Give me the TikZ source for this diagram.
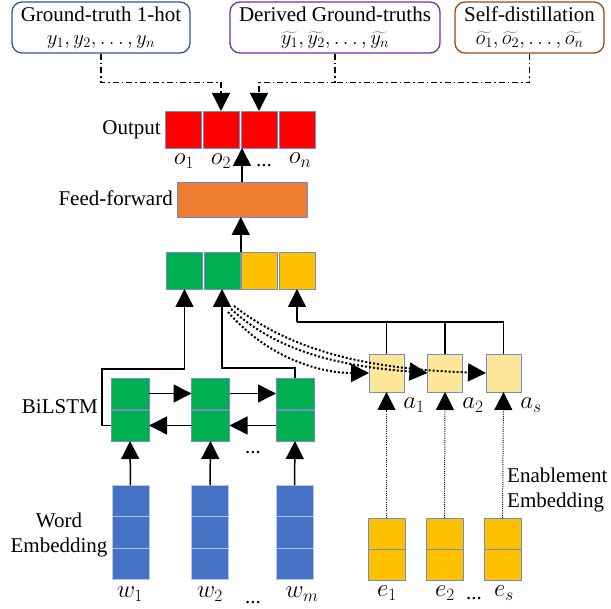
\documentclass[tikz,border=0pt]{standalone}
\usepackage{fontspec}
\setmainfont{Liberation Serif}
\usetikzlibrary{arrows.meta,calc}
\definecolor{cred}{HTML}{FF0000}
\definecolor{corange}{HTML}{ED7D31}
\definecolor{cgreen}{HTML}{00B050}
\definecolor{cyellow}{HTML}{FFC000}
\definecolor{clyellow}{HTML}{FFE699}
\definecolor{cblue}{HTML}{4472C4}
\definecolor{cellb}{HTML}{6F8FC8}
\definecolor{wcellb}{HTML}{B4C7E7}
\definecolor{bblue}{HTML}{2F5597}
\definecolor{bpurple}{HTML}{7030A0}
\definecolor{bbrown}{HTML}{9E480E}
\begin{document}
\begin{tikzpicture}[x=1pt,y=-1pt,
  font=\fontsize{21}{23}\selectfont,
  cell/.style={draw=cellb,line width=0.8pt,inner sep=0pt,outer sep=0pt,minimum width=36pt,minimum height=37pt},
  wcell/.style={cell,draw=wcellb,fill=cblue,minimum width=37pt,minimum height=31.5pt},
  ecell/.style={cell,fill=cyellow,minimum width=37pt,minimum height=31pt},
  lcell/.style={cell,fill=cgreen,minimum width=38pt,minimum height=31pt},
  tbox/.style={rounded corners=10pt,line width=1.3pt,align=center,inner sep=0pt,minimum height=51pt},
  tip/.style={-{Triangle[length=18pt,width=18pt]}},
  arr/.style={line width=1.5pt,tip},
  ln/.style={line width=1.5pt},
  dd/.style={line width=1.3pt,dash pattern=on 6pt off 3pt on 1.5pt off 3pt},
  dotc/.style={line width=2pt,dash pattern=on 2pt off 2pt,tip},
  dotv/.style={line width=1pt,dash pattern=on 1pt off 1.2pt,tip},
  lab/.style={inner sep=0pt},
  mlab/.style={inner sep=0pt,font=\fontsize{23.5}{25}\selectfont}]
\useasboundingbox (0,0) rectangle (611,609);

% top boxes
\node[tbox,draw=bblue,minimum width=178pt] (gt) at (101,27.5) {Ground-truth 1-hot\\{\fontsize{22.5}{23}\selectfont$y_1, y_2, \ldots, y_n$}};
\node[tbox,draw=bpurple,minimum width=210pt] (dg) at (335,27.5) {Derived Ground-truths\\{\fontsize{22.5}{23}\selectfont$\widetilde{y_1}, \widetilde{y_2}, \ldots, \widetilde{y_n}$}};
\node[tbox,draw=bbrown,minimum width=149pt] (sd) at (529.5,27.5) {Self-distillation\\{\fontsize{22.5}{23}\selectfont$\widetilde{o_1}, \widetilde{o_2}, \ldots, \widetilde{o_n}$}};

% output
\node[cell,fill=cred] (r1) at (183,129.5) {};
\node[cell,fill=cred] (r2) at (221,129.5) {};
\node[cell,fill=cred] (r3) at (259,129.5) {};
\node[cell,fill=cred] (r4) at (297,129.5) {};
\node[lab,anchor=east] (outl) at (161,130) {Output};
\node[mlab] (o1) at (184,161) {$o_1$};
\node[mlab] (o2) at (221,161) {$o_2$};
\node[lab,anchor=base] (od) at (264,167) {...};
\node[mlab] (on) at (300,160) {$o_n$};

% feed-forward
\node[cell,fill=corange,minimum width=130pt,minimum height=35pt] (ff) at (242,199.5) {};
\node[lab,anchor=east] (ffl) at (173,198) {Feed-forward};

% concat
\node[cell,fill=cgreen] (g1) at (184.5,270.5) {};
\node[cell,fill=cgreen] (g2) at (222,270.5) {};
\node[cell,fill=cyellow] (y1) at (259.5,270.5) {};
\node[cell,fill=cyellow] (y2) at (297,270.5) {};

% BiLSTM
\node[lcell] (l1t) at (130,393.5) {};
\node[lcell] (l2t) at (210.5,393.5) {};
\node[lcell] (l3t) at (295,393.5) {};
\node[lcell] (l1b) at (130,425.5) {};
\node[lcell] (l2b) at (210.5,425.5) {};
\node[lcell] (l3b) at (295,425.5) {};
\node[lab,anchor=east] (bil) at (98,407) {BiLSTM};
\node[lab,anchor=base] (ld) at (253,454) {...};

% word embedding
\foreach \n/\x in {1/130.5,2/210,3/294.5}{
  \node[wcell] (w\n a) at (\x,501) {};
  \node[wcell] (w\n b) at (\x,532.5) {};
  \node[wcell] (w\n c) at (\x,564) {};
}
\node[lab,align=center] (wel) at (59,534.5) {Word\\[2pt]Embedding};
\node[mlab] (wl1) at (130,594) {$w_1$};
\node[mlab] (wl2) at (210,594) {$w_2$};
\node[lab,anchor=base] (wd) at (253,604) {...};
\node[mlab] (wl3) at (302,594) {$w_m$};

% attention
\node[cell,fill=clyellow,minimum width=35pt,minimum height=38pt] (a1) at (386.5,373) {};
\node[cell,fill=clyellow,minimum width=35pt,minimum height=38pt] (a2) at (445,373) {};
\node[cell,fill=clyellow,minimum width=35pt,minimum height=38pt] (a3) at (503.5,373) {};
\node[mlab] (al1) at (414,405) {$a_1$};
\node[mlab] (al2) at (473,405) {$a_2$};
\node[mlab] (al3) at (531,405) {$a_s$};

% enablement embedding
\foreach \n/\x in {1/386.5,2/444.5,3/502.5}{
  \node[ecell] (e\n a) at (\x,533.5) {};
  \node[ecell] (e\n b) at (\x,564.5) {};
}
\node[lab,align=left,anchor=west] (eel) at (507,489.5) {Enablement\\[2pt]Embedding};
\node[mlab] (el1) at (387,593) {$e_1$};
\node[mlab] (el2) at (445,593) {$e_2$};
\node[lab,anchor=base] (ed) at (474,600) {...};
\node[mlab] (el3) at (504,593) {$e_s$};

% dash-dot feedback lines
\draw[dd,tip] (gt.south) -- ++(0,29) -| (r2.north);
\draw[dd,tip] (dg.south) -- ++(0,29) -| (r3.north);
\path (dg.south) ++(0,29) coordinate (dgj);
\draw[dd] (sd.south) |- (dgj);

% feed-forward connections
\draw[arr] (ff.north) -- (ff.north |- r2.south);
\coordinate (cj) at ($(g2.north east)!0.5!(y1.north west)$);
\draw[arr] (cj) -- (cj |- ff.south);

% BiLSTM to concat
\coordinate (t1) at ($(g1.south)+(0,80)$);
\draw[arr] (l1b.west) -- ++(-9,0) |- (t1) -- (g1.south);
\coordinate (t2) at ($(g2.south)+(0,79)$);
\draw[arr] (l3t.north) |- (t2) -- (g2.south);

% BiLSTM internal
\draw[arr] (l1t.east) -- (l2t.west);
\draw[arr] (l2t.east) -- (l3t.west);
\draw[arr] (l3b.west) -- (l2b.east);
\draw[arr] (l2b.west) -- (l1b.east);

% word to LSTM
\draw[arr] (w1a.north) -- (l1b.south);
\draw[arr] (w2a.north) -- (l2b.south);
\draw[arr] (w3a.north) -- (l3b.south);

% attention to concat
\coordinate (t3) at ($(y2.south)+(0,33)$);
\draw[ln] (a3.north) |- (t3);
\draw[arr] (t3) -- (y2.south);
\draw[ln] (a1.north) -- (a1.north |- t3);
\draw[ln] (a2.north) -- (a2.north |- t3);

% enablement to attention
\draw[dotv] (e1a.north) -- (a1.south);
\draw[dotv] (e2a.north) -- (a2.south);
\draw[dotv] (e3a.north) -- (a3.south);

% dotted attention curves
\coordinate (ds1) at ($(g2.south)+(6,23)$);
\coordinate (ds2) at ($(g2.south)+(9,20)$);
\coordinate (ds3) at ($(g2.south)+(12,17)$);
\draw[dotc] (ds1) .. controls (268,358) and (320,373) .. (a1.west);
\draw[dotc] (ds2) .. controls (278,352) and (340,366) .. (a2.west);
\draw[dotc] (ds3) .. controls (288,348) and (360,369) .. (a3.west);
\end{tikzpicture}
\end{document}
